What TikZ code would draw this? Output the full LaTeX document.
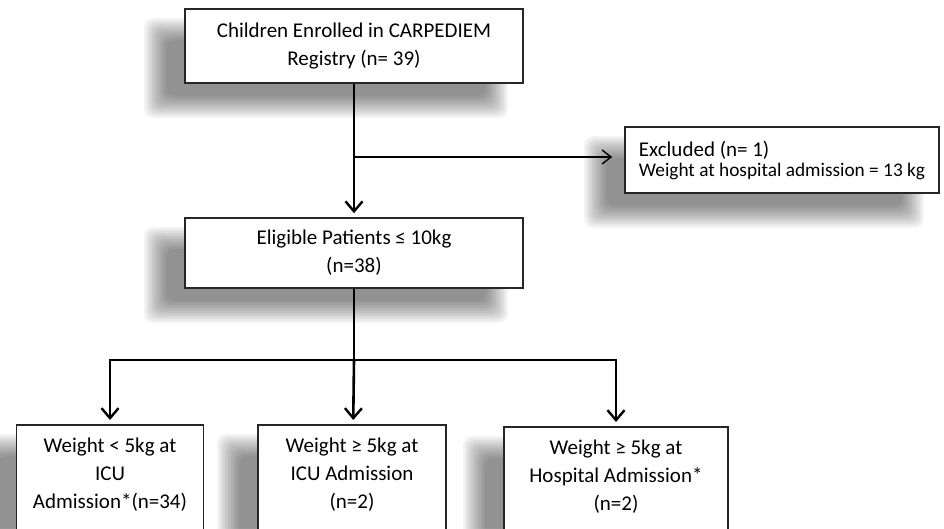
\documentclass[tikz,border=0pt]{standalone}
\usepackage{fontspec}
\setmainfont{Carlito}
\usetikzlibrary{arrows.meta,backgrounds}

\begin{document}
\begin{tikzpicture}[x=1pt,y=-1pt,
                    flowbox/.style={rectangle,draw=black!85,line width=1.6pt,fill=white,
                        align=center,font=\fontsize{21}{28}\selectfont},
                    lowbox/.style={anchor=north,text height=70pt,inner ysep=14pt,text depth=90pt},
                    shadowlayer/.style={fill=black,fill opacity=0.042,rounded corners=8pt},
                    mainline/.style={line width=2.6pt},
                    mainarrow/.style={mainline,shorten >=4pt,
                        -{Straight Barb[length=10pt,width=17pt,line width=2.4pt]}},
                    sidearrow/.style={line width=1.4pt,shorten >=12pt,
                        -{Straight Barb[length=9pt,width=14pt,line width=1.4pt]}}
                ]
                \useasboundingbox (0,0) rectangle (944,528);
                \clip (0,0) rectangle (944,528);

                % boxes
                \node[flowbox,minimum width=338pt,minimum height=74pt] (enrolled) at (354,46)
                    {Children Enrolled in CARPEDIEM\\Registry (n= 39)};
                \node[flowbox,minimum width=314pt,minimum height=66pt,align=left,
                      font=\fontsize{19.3}{20}\selectfont] (excluded) at (782,160)
                    {{\fontsize{21}{20}\selectfont Excluded (n= 1)}\\Weight at hospital admission = 13 kg};
                \node[flowbox,minimum width=338pt,minimum height=70pt] (eligible) at (354,253)
                    {Eligible Patients ≤ 10kg\\(n=38)};
                \node[flowbox,lowbox,minimum width=187pt] (under) at (110,424)
                    {Weight < 5kg at\\ICU\\Admission*(n=34)};
                \node[flowbox,lowbox,minimum width=188pt] (icu) at (352,424)
                    {Weight ≥ 5kg at\\ICU Admission\\(n=2)};
                \node[flowbox,lowbox,minimum width=224pt] (hosp) at (616,426)
                    {Weight ≥ 5kg at\\Hospital Admission*\\(n=2)};

                % soft shadows, offset down and to the left
                \begin{scope}[on background layer]
                    \fill[white] (0,0) rectangle (944,528);
                    \foreach \b in {enrolled,excluded,eligible,under,icu,hosp}
                        {
                        \foreach \d in {-12,-10,...,10}
                            \fill[shadowlayer] ([shift={(-28+\d,22+\d)}]\b.north west)
                                rectangle ([shift={(-28-\d,22-\d)}]\b.south east);
                    }
                \end{scope}

                % connectors
                \coordinate (branch) at (354,157);
                \coordinate (split) at (354,360);
                \draw[mainarrow] (enrolled) -- (eligible);
                \draw[sidearrow] (branch) -- (branch -| excluded.west);
                \draw[mainline] (eligible) -- (split);
                \draw[mainarrow] (split) -| (under);
                \draw[mainarrow] (split) -- (icu);
                \draw[mainarrow] (split) -| (hosp);
                \end{tikzpicture}
\end{document}
